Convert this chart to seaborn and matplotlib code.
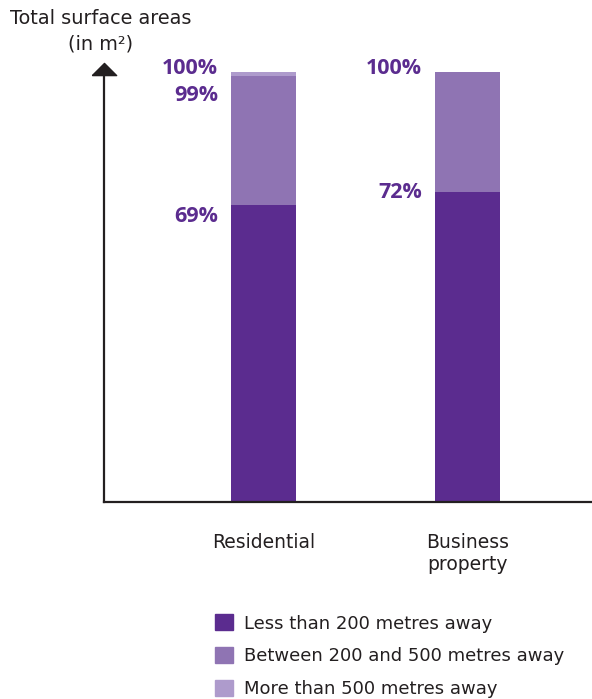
import matplotlib
matplotlib.use("Agg")
import matplotlib.pyplot as plt
import matplotlib.patches as mpatches
import seaborn as sns
import numpy as np
import pandas as pd

# data (shares of total surface area, %)
categories = ["Residential", "Business\nproperty"]
less_200 = [69, 72]
between_200_500 = [30, 28]
more_500 = [1, 0]
series_names = ["Less than 200 metres away",
                "Between 200 and 500 metres away",
                "More than 500 metres away"]
colors = ["#5b2c8f", "#8f74b3", "#ae9bcc"]
text_purple = "#5b2c8f"
dark = "#231f20"

sns.set_theme(style="white")
plt.rcParams["font.family"] = ["DejaVu Sans"]
fs = 13.2

cum1 = np.array(less_200)
cum2 = cum1 + np.array(between_200_500)
cum3 = cum2 + np.array(more_500)
df = pd.DataFrame({"cat": categories, "c1": cum1, "c2": cum2, "c3": cum3})

fig = plt.figure(figsize=(5.92, 6.99), dpi=100)
ax = fig.add_axes([104 / 592, 197 / 699, 488 / 592, 430 / 699])

# stacked bars: draw the cumulative totals from the top down
for col, c in zip(["c3", "c2", "c1"], colors[::-1]):
    sns.barplot(data=df, x="cat", y=col, color=c, width=0.319,
                saturation=1, ax=ax, edgecolor="none", linewidth=0)

ax.set_xlim(-0.782, 1.61)
ax.set_ylim(0, 100)
ax.set_xlabel("")
ax.set_ylabel("")
ax.set_yticks([])
ax.tick_params(axis="x", length=0, pad=22, labelsize=fs + 0.3, labelcolor=dark)
for lab in ax.get_xticklabels():
    lab.set_linespacing(1.45)
sns.despine(ax=ax, top=True, right=True)
for side in ["left", "bottom"]:
    ax.spines[side].set_color(dark)
    ax.spines[side].set_linewidth(1.6)
ax.spines["left"].set_bounds(0, 100.6)
ax.spines["bottom"].set_position(("data", 0))

# arrow head on the y axis
tri = [(-1, -0.5), (1, -0.5), (0, 0.5), (-1, -0.5)]
ax.plot([-0.782], [100.7], marker=tri, markersize=17.5, color=dark,
        clip_on=False, zorder=5)

# percentage labels
bar_left = [0 - 0.16, 1 - 0.16]
lab_kw = dict(ha="right", fontsize=15.5, fontweight="bold", color=text_purple,
              family="Open Sans")
xoff = -0.062
ax.text(bar_left[0] + xoff, 100.9, f"{cum3[0]}%", va="center", **lab_kw)
ax.text(bar_left[0] + xoff, 94.6, f"{cum2[0]}%", va="center", **lab_kw)
ax.text(bar_left[0] + xoff, 66.3, f"{cum1[0]}%", va="center", **lab_kw)
ax.text(bar_left[1] + xoff, 100.9, f"{cum3[1]}%", va="center", **lab_kw)
ax.text(bar_left[1] + xoff, cum1[1], f"{cum1[1]}%", va="center", **lab_kw)

# axis title
fig.text(101 / 592, 1 - 18 / 699, "Total surface areas", ha="center",
         va="center", fontsize=fs + 0.7, color=dark)
fig.text(101 / 592, 1 - 44 / 699, "(in m²)", ha="center", va="center",
         fontsize=fs + 0.7, color=dark)

# legend
handles = [mpatches.Patch(color=c, label=n) for c, n in zip(colors, series_names)]
fig.legend(handles=handles, loc="upper left",
           bbox_to_anchor=(199 / 592, 1 - 598 / 699), frameon=False,
           fontsize=fs - 0.2, handlelength=1.0, handleheight=1.0,
           handletextpad=0.62, labelspacing=0.8, labelcolor=dark)

fig.savefig("out.png", dpi=100)
